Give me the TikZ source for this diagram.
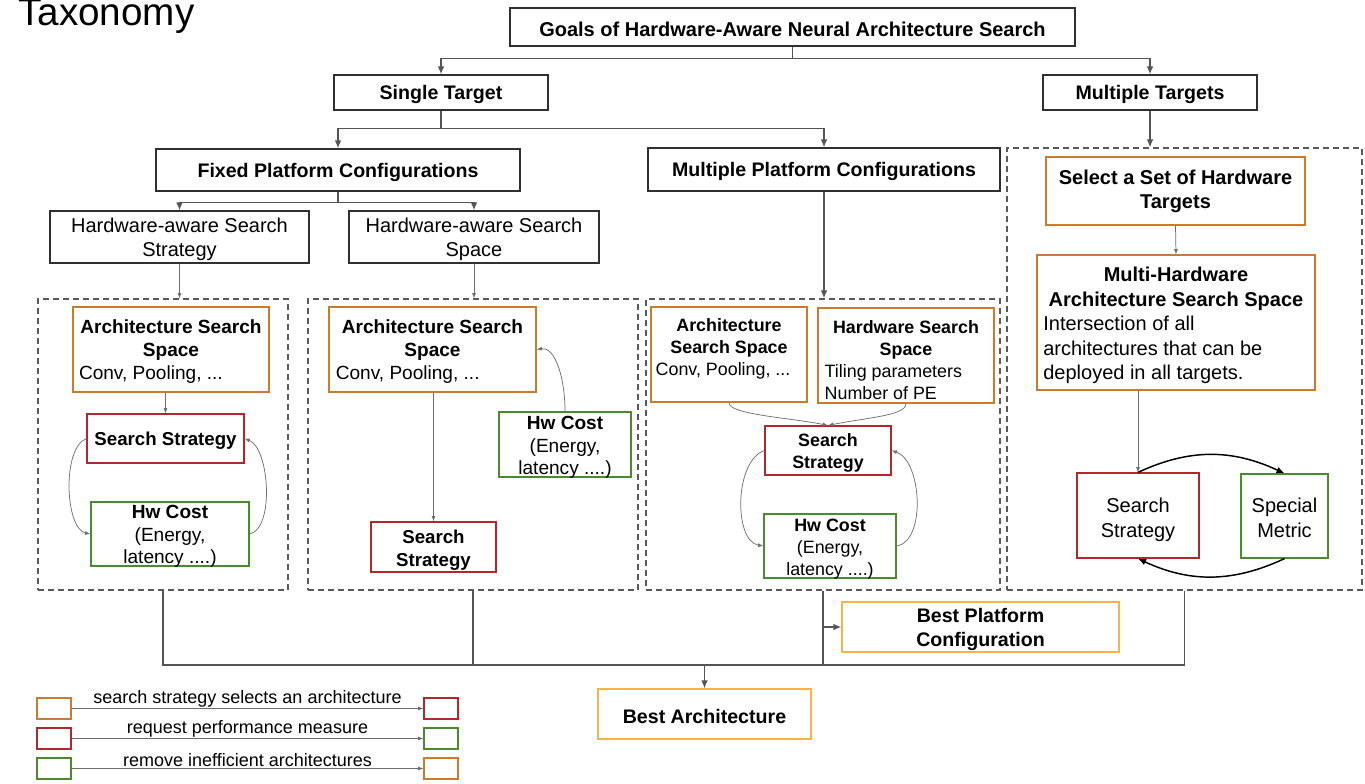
\documentclass[tikz,border=0pt]{standalone}
\usepackage{fontspec}
\setmainfont{Liberation Sans}
\usetikzlibrary{arrows.meta,calc}
\definecolor{ob}{HTML}{CC7A2E}
\definecolor{rb}{HTML}{B3262A}
\definecolor{gb}{HTML}{4C8A2E}
\definecolor{yb}{HTML}{F8B448}
\definecolor{bk}{HTML}{303030}
\definecolor{dg}{HTML}{5A5A5A}
\definecolor{lg}{HTML}{555555}
\definecolor{tg}{HTML}{6E6E6E}
\newcommand{\lft}[2]{\makebox[#1][l]{#2}}
\newcommand{\up}[1]{\rule{0pt}{#1em}}
\begin{document}
\begin{tikzpicture}[x=0.75pt,y=-0.75pt,
  bb/.style args={#1/#2/#3/#4}{at={($(#1,#2)!0.5!(#3,#4)$)},
    minimum width={(#3-#1)*0.75pt}, minimum height={(#4-#2)*0.75pt}},
  box/.style={draw, line width=0.9pt, inner sep=0pt, fill=white, align=center,
    font=\fontsize{14.3}{17.3}\selectfont, execute at begin node={\rule{0pt}{0.93em}}},
  txt/.style={inner sep=0pt, align=center, font=\fontsize{14.3}{17.1}\selectfont},
  big/.style={font=\fontsize{14.7}{17.8}\selectfont\bfseries},
  small/.style={font=\fontsize{13.4}{16.5}\selectfont},
  blk/.style={box, draw=bk},
  org/.style={box, draw=ob},
  rdb/.style={box, draw=rb},
  grb/.style={box, draw=gb},
  ylb/.style={box, draw=yb},
  dbox/.style={draw=dg, dash pattern=on 4.5pt off 3pt, line width=0.9pt, inner sep=0pt},
  conn/.style={draw=lg, line width=1.1pt},
  arr/.style={conn, -{Latex[length=6pt,width=5pt]}},
  tarr/.style={draw=tg, line width=0.55pt, -{Latex[length=4pt,width=3pt]}},
  karr/.style={draw=black, line width=1.1pt, -{Latex[length=6pt,width=5pt]}},
  lab/.style={font=\fontsize{13.5}{16}\selectfont, inner sep=1pt, text=black},
]
\useasboundingbox (0,0) rectangle (1365,783);

% title
\node[anchor=base west, inner sep=0pt, font=\fontsize{29}{30}\selectfont] (title) at (18,25) {Taxonomy};

% top hierarchy
\node[blk, big, font=\fontsize{15}{18}\selectfont\bfseries, bb=510/8/1075/46] (goals) {Goals of Hardware-Aware Neural Architecture Search};
\node[blk, big, bb=334/75/548/110] (single) {Single Target};
\node[blk, big, bb=1043/75/1257/110] (multi) {Multiple Targets};
\node[blk, big, bb=156/149/520/191] (fixed) {Fixed Platform Configurations};
\node[blk, big, bb=648/148/1000/191] (mpc) {Multiple Platform Configurations};
\node[blk, font=\fontsize{15}{18}\selectfont, bb=50/211/309/263] (hwst) {\up{0.94}Hardware-aware Search\\Strategy};
\node[blk, font=\fontsize{15}{18}\selectfont, bb=349/211/599/263] (hwsp) {\up{0.94}Hardware-aware Search\\Space};

% dashed groups
\node[dbox, bb=38/299/288/590] (d1) {};
\node[dbox, bb=308/299/638/590] (d2) {};
\node[dbox, bb=646/299/1000/590] (d3) {};
\node[dbox, bb=1007/148/1362/590] (d4) {};

% group 1
\node[org, bb=73/307/269/392] (ass1)
  {\up{0.94}\textbf{Architecture Search}\\\textbf{Space}\\\lft{138pt}{Conv, Pooling, ...}};
\node[rdb, bb=87/414/244/463, font=\fontsize{14}{17}\selectfont\bfseries] (ss1) {Search Strategy};
\node[grb, bb=91/502/249/566] (hw1) {};
\node[txt] (hw1t) at (170,536.5) {\textbf{Hw Cost}\\(Energy,\\latency ....)};

% group 2
\node[org, bb=329/307/536/392] (ass2)
  {\up{0.94}\textbf{Architecture Search}\\\textbf{Space}\\\lft{145pt}{Conv, Pooling, ...}};
\node[rdb, bb=371/522/496/572, font=\fontsize{14}{17}\selectfont\bfseries] (ss2) {\up{1.05}Search\\Strategy};
\node[grb, bb=499/412/631/477] (hw2) {};
\node[txt] (hw2t) at (565,447.5) {\textbf{Hw Cost}\\(Energy,\\latency ....)};

% group 3
\node[org, bb=651/307/807/402] (ass3) {};
\node[txt, small] (ass3t) at (729,349)
  {\textbf{Architecture}\\\textbf{Search Space}\\\lft{110pt}{Conv, Pooling, ...}};
\node[org, bb=818/308/994/403] (hss) {};
\node[txt, small] (hsst) at (906,360)
  {\textbf{Hardware Search}\\\textbf{Space}\\\lft{122pt}{Tiling parameters}\\\lft{122pt}{Number of PE}};
\node[rdb, bb=765/426/891/475, font=\fontsize{13.4}{16.5}\selectfont\bfseries] (ss3) {\up{0.95}Search\\Strategy};
\node[grb, bb=764/514/896/578] (hw3) {};
\node[txt, small] (hw3t) at (830,549) {\textbf{Hw Cost}\\(Energy,\\latency ....)};

% group 4
\node[org, big, font=\fontsize{15}{18}\selectfont\bfseries, bb=1046/157/1305/225] (sel) {Select a Set of Hardware\\Targets};
\node[org, bb=1037/255/1315/390, font=\fontsize{15}{18.4}\selectfont] (mh)
  {\up{1.03}\textbf{Multi-Hardware}\\\textbf{Architecture Search Space}\\\lft{199pt}{Intersection of all}\\\lft{199pt}{architectures that can be}\\\lft{199pt}{deployed in all targets.}};
\node[rdb, bb=1077/473/1199/558, font=\fontsize{15}{18.5}\selectfont] (ss4) {\up{1.13}Search\\Strategy};
\node[grb, bb=1241/474/1328/558, font=\fontsize{15}{18.5}\selectfont] (sm) {\up{0.93}Special\\Metric};

% results
\node[ylb, big, bb=842/602/1119/652] (bp) {\up{1.0}Best Platform\\Configuration};
\node[ylb, big, bb=598/689/811/739] (ba) {Best Architecture};

% legend
\node[org, bb=37/698/71/719] (lo1) {};
\node[rdb, bb=37/728/71/749] (lr1) {};
\node[grb, bb=37/758/71/779] (lg1) {};
\node[rdb, bb=424/698/458/719] (rr1) {};
\node[grb, bb=424/728/458/749] (rg1) {};
\node[org, bb=424/758/458/779] (ro1) {};
\draw[tarr] (lo1.east) -- node[above, lab] {search strategy selects an architecture} (rr1.west);
\draw[tarr] (lr1.east) -- node[above, lab] {request performance measure} (rg1.west);
\draw[tarr] (lg1.east) -- node[above, lab] {remove inefficient architectures} (ro1.west);

% top connectors
\draw[arr] (goals.south) -- ++(0,12) -| (single.north);
\draw[arr] (goals.south) -- ++(0,12) -| (multi.north);
\draw[arr] (single.south) -- ++(0,18) -| (fixed.north);
\draw[arr] (single.south) -- ++(0,18) -| (mpc.north);
\draw[arr] (fixed.south) -- ++(0,11) -| (hwst.north);
\draw[arr] (fixed.south) -- ++(0,11) -| (hwsp.north);
\draw[tarr] (hwst.south) -- (hwst.south |- d1.north);
\draw[tarr] (hwsp.south) -- (hwsp.south |- d2.north);
\draw[arr] (mpc.south) -- (mpc.south |- d3.north);
\draw[arr] (multi.south) -- (multi.south |- d4.north);

% group 1 connectors
\draw[tarr] (ss1.north |- ass1.south) -- (ss1.north);
\draw[tarr] (ss1.west) .. controls +(-25,10) and +(-25,-5) .. (hw1.west);
\draw[tarr] (hw1.east) .. controls +(25,-5) and +(25,10) .. (ss1.east);

% group 2 connectors
\draw[tarr] (ss2.north |- ass2.south) -- (ss2.north);
\draw[tarr] (hw2.north) .. controls +(0,-35) and +(18,-3) .. (ass2.east);

% group 3 connectors
\draw[tarr] (ass3.south) .. controls +(0,12) and +(-40,-8) .. (ss3.north);
\draw[tarr] (hss.south) .. controls +(0,12) and +(40,-8) .. (ss3.north);
\draw[tarr] (ss3.west) .. controls +(-30,10) and +(-30,-5) .. (hw3.west);
\draw[tarr] (hw3.east) .. controls +(30,-5) and +(30,10) .. (ss3.east);

% group 4 connectors
\draw[tarr] (sel.south) -- (mh.north);
\draw[tarr] (ss4.north |- mh.south) -- (ss4.north);
\draw[karr] (ss4.north) to[out=25,in=155] (sm.north);
\draw[karr] (sm.south) to[out=-155,in=-25] (ss4.south);

% bottom bus
\coordinate (busL) at (163,665);
\draw[conn] (d1.south) -- (d1.south |- busL) -| (d4.south);
\draw[conn] (d2.south) -- (d2.south |- busL);
\draw[conn] (d3.south) -- (d3.south |- busL);
\draw[arr] (d3.south |- bp.west) -- (bp.west);
\draw[arr] (ba.north |- busL) -- (ba.north);
\end{tikzpicture}
\end{document}
